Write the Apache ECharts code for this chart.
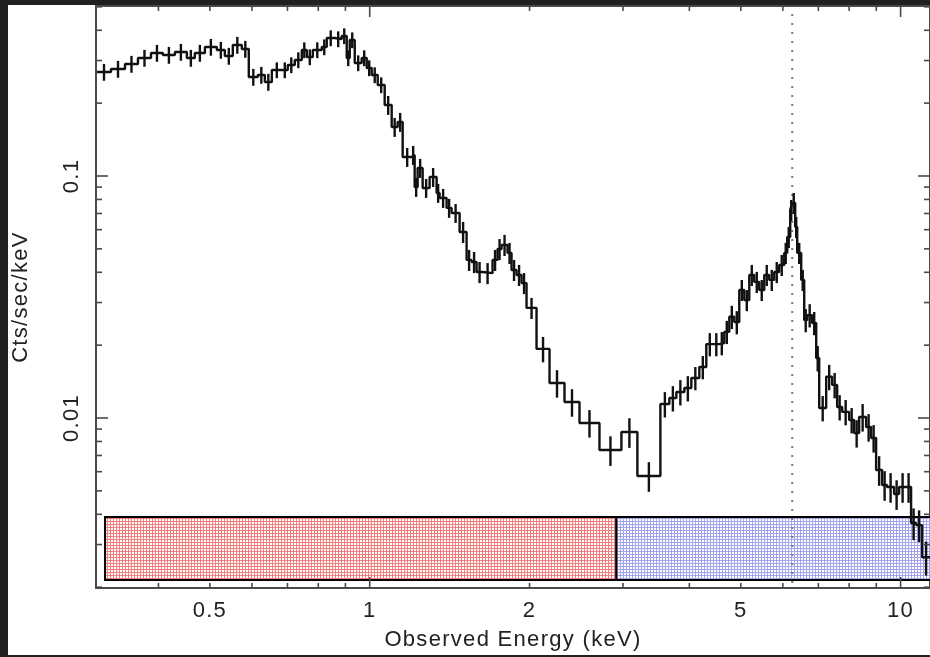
<!DOCTYPE html>
<html><head><meta charset="utf-8">
<script src="https://cdn.jsdelivr.net/npm/echarts@6/dist/echarts.min.js"></script>
<style>
html,body{margin:0;padding:0;background:#202020;width:930px;height:657px;overflow:hidden}
#chart{position:absolute;left:8px;top:5px;width:922px;height:650px;background:#fff}
</style></head><body><div id="chart"></div>
<script>
// ---- data ----
const binEdges = [0.3064,0.3256,0.3460,0.3660,0.3873,0.4078,0.4296,0.4525,0.4684,0.4893,
0.5153,0.5335,0.5522,0.5743,0.5919,0.6155,0.6345,0.6541,0.6830,0.7009,
0.7226,0.7449,0.7612,0.7813,0.8123,0.8300,0.8592,0.8857,0.9052,0.9171,
0.9371,0.9658,0.9872,1.0087,1.0353,1.0671,1.1000,1.1289,1.1537,1.1996,
1.2153,1.2311,1.2581,1.2968,1.3368,1.3542,1.3960,1.4265,1.4768,1.5223,
1.5556,1.5897,1.6316,1.7038,1.7411,1.7715,1.8182,1.8500,1.8906,1.9320,
1.9743,2.0618,2.1813,2.3277,2.4840,2.7087,2.9792,3.1930,3.5279,3.6680,
3.7811,3.9144,4.0349,4.1772,4.3055,4.4384,4.5551,4.6547,4.7569,4.8611,
4.9675,5.0763,5.1875,5.3012,5.4168,5.5358,5.6570,5.7810,5.9071,6.0369,
6.1158,6.1958,6.2497,6.3314,6.3866,6.4982,6.5833,6.6694,6.8149,6.9346,
7.0253,7.2413,7.4318,7.5945,7.7607,8.0000,8.1753,8.3543,8.6110,8.8002,
8.9927,9.2302,9.4318,9.7223,9.9353,10.241,10.465,10.695,10.977,11.363];
const rates = [0.2690,0.2768,0.2903,0.3074,0.3223,0.3162,0.3254,0.3074,0.3223,0.3412,
0.3317,0.3133,0.3478,0.3348,0.2565,0.2615,0.2446,0.2742,0.2742,0.2876,
0.3016,0.3317,0.3103,0.3317,0.3412,0.3718,0.3682,0.3789,0.3074,0.3647,
0.2931,0.3074,0.2795,0.2615,0.2377,0.1965,0.1594,0.1672,0.1198,0.1221,
0.0901,0.1079,0.0892,0.0990,0.0851,0.0811,0.0738,0.0703,0.0587,0.0450,
0.0441,0.0401,0.0397,0.0450,0.0499,0.0519,0.0481,0.0409,0.0390,0.0361,
0.0285,0.0193,0.01395,0.01164,0.00954,0.00737,0.00875,0.00576,0.01142,0.01209,
0.01280,0.01330,0.01463,0.01624,0.0202,0.0202,0.0204,0.0227,0.0262,0.0249,
0.0338,0.0307,0.0390,0.0365,0.0338,0.0390,0.0372,0.0401,0.0429,0.0481,
0.0560,0.0724,0.0773,0.0616,0.0481,0.0372,0.0254,0.0266,0.0247,0.0177,
0.0110,0.0148,0.0137,0.0111,0.0106,0.00981,0.00867,0.0101,0.00918,0.00827,
0.00610,0.00529,0.00519,0.00485,0.00519,0.00519,0.00368,0.00361,0.00266];
const errFrac = [0.08,0.08,0.08,0.08,0.08,0.08,0.08,0.08,0.08,0.08,
0.08,0.08,0.08,0.08,0.08,0.08,0.08,0.075,0.075,0.075,
0.075,0.075,0.075,0.075,0.075,0.075,0.075,0.075,0.075,0.075,
0.075,0.075,0.075,0.075,0.075,0.09,0.09,0.09,0.09,0.09,
0.09,0.09,0.09,0.09,0.09,0.09,0.09,0.09,0.10,0.10,
0.10,0.10,0.10,0.10,0.10,0.10,0.10,0.10,0.10,0.10,
0.10,0.12,0.13,0.13,0.13,0.14,0.14,0.14,0.12,0.12,
0.12,0.12,0.11,0.11,0.11,0.11,0.11,0.11,0.11,0.11,
0.10,0.10,0.10,0.10,0.10,0.10,0.10,0.10,0.10,0.10,
0.10,0.10,0.10,0.10,0.10,0.10,0.11,0.11,0.11,0.12,
0.12,0.12,0.12,0.12,0.12,0.12,0.13,0.13,0.13,0.13,
0.14,0.14,0.14,0.14,0.14,0.14,0.15,0.15,0.16];
const xRange = [0.3051, 11.36];
const yRange = [0.001984, 0.504];
const xMajorTicks = [1, 10];
const xMinorTicks = [0.4,0.5,0.6,0.7,0.8,0.9,2,3,4,5,6,7,8,9];
const xTickLabelValues = [0.5, 1, 2, 5, 10];
const xTickLabels = ['0.5','1','2','5','10'];
const yMajorTicks = [0.01, 0.1];
const yMinorTicks = [0.002,0.003,0.004,0.005,0.006,0.007,0.008,0.009,
  0.02,0.03,0.04,0.05,0.06,0.07,0.08,0.09,0.2,0.3,0.4,0.5];
const yTickLabelValues = [0.01, 0.1];
const yTickLabels = ['0.01','0.1'];
const bandEdges = [0.3173, 2.915, 12];
const bandRange = [0.002141, 0.003899];
const lineEnergy = 6.25;
const xTitle = 'Observed Energy (keV)';
const yTitle = 'Cts/sec/keV';

// ---- derived ----
const stepPts = [];
for (let i = 0; i < rates.length; i++) {
  stepPts.push([binEdges[i], rates[i]], [binEdges[i+1], rates[i]]);
}
const errData = rates.map((v, i) => [Math.sqrt(binEdges[i]*binEdges[i+1]), v*(1-errFrac[i]), v*(1+errFrac[i])]);

// wide, PGPLOT-like letter spacing for canvas text
(function () {
  const P = CanvasRenderingContext2D.prototype, orig = P.fillText;
  P.fillText = function () { try { this.letterSpacing = '1.3px'; } catch (e) {} return orig.apply(this, arguments); };
})();

function makePattern(col) {
  const c = document.createElement('canvas'); c.width = 3; c.height = 3;
  const g = c.getContext('2d');
  g.fillStyle = '#fff'; g.fillRect(0,0,3,3);
  g.fillStyle = col; g.fillRect(0,0,3,1); g.fillRect(0,0,1,3);
  return {image: c, repeat: 'repeat'};
}
const bandFills = [makePattern('#f47c7c'), makePattern('#a4a4ec')];
const FONT = '22px "Liberation Sans", Arial, sans-serif';
const TXT = '#222';
const AX = '#4a4a4a';

const dom = document.getElementById('chart');
const chart = echarts.init(dom, null, {renderer: 'canvas'});

function renderBands(params, api) {
  const cs = params.coordSys; const right = cs.x + cs.width;
  const kids = [];
  for (let i = 0; i < bandEdges.length - 1; i++) {
    const p0 = api.coord([bandEdges[i], bandRange[1]]);
    const p1 = api.coord([bandEdges[i+1], bandRange[0]]);
    const x1 = Math.min(p1[0], right + 3);
    kids.push({type:'rect', shape:{x:p0[0], y:p0[1], width:x1-p0[0], height:p1[1]-p0[1]},
      style:{fill: bandFills[i], stroke:'#000', lineWidth:2}});
  }
  return {type:'group', children: kids};
}
function renderLine(params, api) {
  const t = api.coord([lineEnergy, yRange[1]]);
  const b = api.coord([lineEnergy, yRange[0]]);
  return {type:'line', shape:{x1:t[0], y1:t[1]+8, x2:b[0], y2:b[1]},
    style:{stroke:'#777', lineWidth:2, lineDash:[2,7]}};
}
function renderErr(params, api) {
  const a = api.coord([api.value(0), api.value(1)]);
  const b = api.coord([api.value(0), api.value(2)]);
  return {type:'line', shape:{x1:a[0], y1:a[1], x2:b[0], y2:b[1]}, style:{stroke:'#111', lineWidth:2.4}};
}
function renderAxes(params, api) {
  const cs = params.coordSys;
  const top = cs.y, bot = cs.y + cs.height, left = cs.x, right = cs.x + cs.width;
  const kids = [];
  const ln = (x1,y1,x2,y2) => kids.push({type:'line', shape:{x1,y1,x2,y2}, style:{stroke:AX, lineWidth:1.6}});
  const xt = (arr, len) => arr.forEach(v => { const x = api.coord([v, yRange[0]])[0]; ln(x,bot,x,bot-len); ln(x,top,x,top+len); });
  const yt = (arr, len) => arr.forEach(v => { const y = api.coord([xRange[0], v])[1]; ln(left,y,left+len,y); ln(right,y,right-len,y); });
  xt(xMinorTicks, 5); xt(xMajorTicks, 11); yt(yMinorTicks, 6); yt(yMajorTicks, 12);
  const txt = (s, x, y, rot) => kids.push({type:'text', x, y, rotation: rot || 0,
    style:{text:s, fill:TXT, font:FONT, align:'center', verticalAlign:'middle'}});
  xTickLabelValues.forEach((v, i) => txt(xTickLabels[i], api.coord([v, yRange[0]])[0], bot + 23));
  yTickLabelValues.forEach((v, i) => txt(yTickLabels[i], left - 24, api.coord([xRange[0], v])[1], Math.PI/2));
  txt(xTitle, (left + right) / 2, bot + 52);
  txt(yTitle, left - 75, (top + bot) / 2, Math.PI/2);
  return {type:'group', children: kids};
}

chart.setOption({
  animation: false,
  grid: {left: 88, top: 1, right: -1, bottom: 67, show: true, borderColor: AX, borderWidth: 2, backgroundColor: 'transparent'},
  xAxis: {type:'log', logBase:10, min:xRange[0], max:xRange[1],
    axisLine:{show:false}, axisTick:{show:false}, axisLabel:{show:false}, splitLine:{show:false}},
  yAxis: {type:'log', logBase:10, min:yRange[0], max:yRange[1],
    axisLine:{show:false}, axisTick:{show:false}, axisLabel:{show:false}, splitLine:{show:false}},
  series: [
    {type:'custom', renderItem: renderBands, data:[[bandEdges[0], bandRange[0]]], z:1, silent:true},
    {type:'custom', renderItem: renderLine, data:[[lineEnergy, yRange[0]]], z:2, silent:true},
    {type:'line', data: stepPts, showSymbol:false, symbol:'none', lineStyle:{color:'#111', width:2.4}, z:3, silent:true},
    {type:'custom', renderItem: renderErr, data: errData, z:3, silent:true},
    {type:'custom', renderItem: renderAxes, data:[[xRange[0], yRange[0]]], z:4, silent:true}
  ]
});
</script></body></html>
